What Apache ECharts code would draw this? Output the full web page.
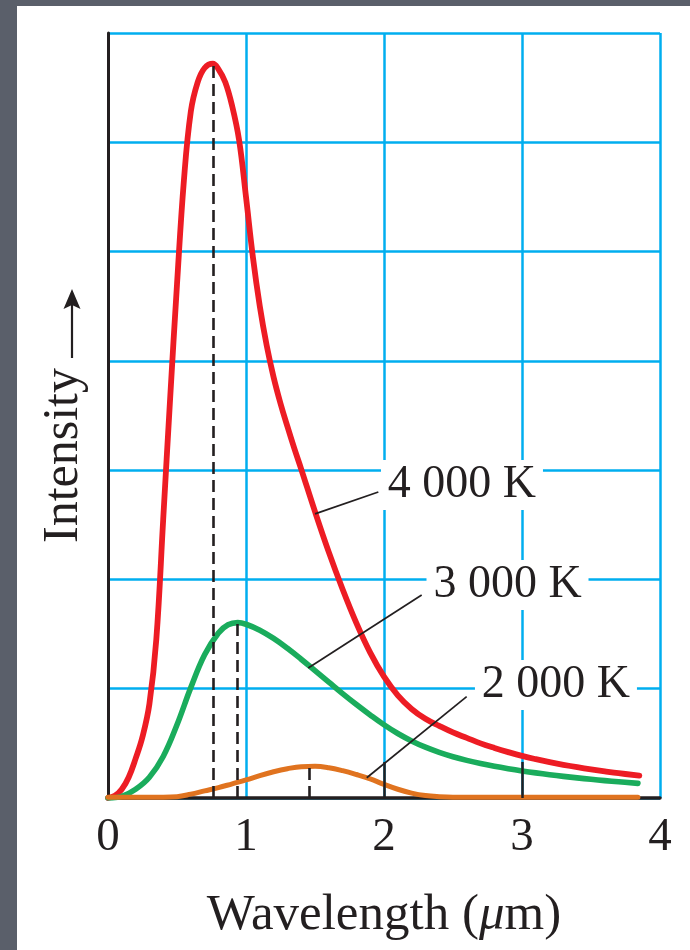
<!DOCTYPE html>
<html>
<head>
<meta charset="utf-8">
<script src="https://cdn.jsdelivr.net/npm/echarts@6/dist/echarts.min.js"></script>
<style>
html,body{margin:0;padding:0;background:#5a5f6a;width:690px;height:950px;overflow:hidden}
#paper{position:absolute;left:17px;top:6px;right:0;bottom:0;background:#fff}
#chart{position:absolute;left:0;top:0;width:690px;height:950px}
</style>
</head>
<body>
<div id="paper"></div>
<div id="chart"></div>
<script>
// ---- data ----
const xTicks = [0, 1, 2, 3, 4];
const wl4000  = [0,0.05,0.1,0.15,0.2,0.25,0.3,0.35,0.4,0.45,0.5,0.55,0.6,0.65,0.7,0.76,0.8,0.85,0.9,0.95,1.0,1.05,1.1,1.15,1.2,1.25,1.3,1.35,
                 1.4,1.5,1.6,1.7,1.8,1.9,2.0,2.1,2.2,2.3,2.4,2.5,2.6,2.7,2.8,2.9,3.0,3.1,3.2,3.3,3.4,3.5,3.6,3.7,3.85];
const int4000 = [0,0.02,0.08,0.19,0.36,0.56,0.86,1.45,2.55,3.65,4.7,5.65,6.28,6.55,6.68,6.72,6.67,6.55,6.33,6.02,5.5,4.95,4.5,4.14,3.85,3.61,3.4,3.2,
                 3.01,2.62,2.25,1.91,1.6,1.33,1.11,0.94,0.815,0.725,0.66,0.6,0.55,0.5,0.458,0.42,0.385,0.355,0.328,0.304,0.282,0.262,0.244,0.227,0.205];
const wl3000  = [0,0.1,0.2,0.3,0.4,0.5,0.6,0.7,0.8,0.87,0.94,1.0,
                 1.1,1.2,1.3,1.4,1.5,1.6,1.7,1.8,1.9,2.0,2.1,2.2,2.3,2.4,2.5,2.6,2.7,2.8,2.9,3.0,3.1,3.2,3.3,3.4,3.5,3.6,3.7,3.84];
const int3000 = [0,0.015,0.08,0.19,0.38,0.67,1.01,1.31,1.51,1.585,1.605,1.59,
                 1.535,1.46,1.37,1.27,1.165,1.06,0.955,0.855,0.76,0.67,0.59,0.522,0.465,0.418,0.378,0.344,0.315,0.29,0.268,0.248,0.23,0.213,0.198,0.184,0.171,0.159,0.148,0.134];
const wl2000  = [0,0.1,0.2,0.3,0.4,0.5,0.6,0.7,0.8,0.9,1.0,1.1,1.2,1.3,1.4,1.5,1.6,1.7,1.8,1.9,2.0,2.1,2.2,2.3,2.4,2.5,3.0,3.5,3.84];
const int2000 = [0.008,0.008,0.008,0.008,0.008,0.012,0.035,0.065,0.095,0.13,0.165,0.205,0.24,0.268,0.287,0.29,0.277,0.25,0.215,0.175,0.125,0.08,0.045,0.022,0.012,0.008,0.008,0.008,0.008];
const peakWl  = [0.76, 0.94, 1.46];
const peakInt = [6.72, 1.6, 0.29];
const curveLabels = ['4 000 K', '3 000 K', '2 000 K'];

// ---- annotation placement (data units) ----
const labelAt = [[2.565, 2.864], [2.895, 1.949], [3.246, 1.034]];
const leaderFrom = [[1.5, 2.6], [1.451, 1.19], [1.875, 0.185]];
const leaderTo   = [[1.959, 2.80], [2.273, 1.857], [2.599, 0.927]];
const innerTicks = [2, 3];
const innerTickLen = 0.33;

const FONT = 'Liberation Serif';
const INK = '#231f20';
const GRIDC = '#00aeef';
const colors = ['#ed1c24', '#1aac5c', '#e0731f'];

const zip = (a, b) => a.map((v, i) => [v, b[i]]);
const curves = [zip(wl4000, int4000), zip(wl3000, int3000), zip(wl2000, int2000)];

const chart = echarts.init(document.getElementById('chart'));

const widths = [5.8, 5.6, 5];
const curveSeries = curves.map((d, i) => ({
  type: 'line', data: d, smooth: 0.4, showSymbol: false,
  lineStyle: { color: colors[i], width: widths[i], cap: 'round', join: 'round' }, z: 3, silent: true
}));

const lineData = [];
peakWl.forEach((x, i) => lineData.push([
  { coord: [x, 0], lineStyle: { color: INK, width: 2.6, type: [12, 6] } },
  { coord: [x, peakInt[i]] }
]));
innerTicks.forEach(x => lineData.push([
  { coord: [x, 0], lineStyle: { color: INK, width: 2.5, type: 'solid' } },
  { coord: [x, innerTickLen] }
]));
leaderFrom.forEach((p, i) => lineData.push([
  { coord: p, lineStyle: { color: INK, width: 1.7, type: 'solid' } },
  { coord: leaderTo[i] }
]));

const option = {
  animation: false,
  grid: { left: 108, right: 30, top: 33, bottom: 152 },
  xAxis: {
    type: 'value', min: 0, max: 4, interval: 1,
    axisLine: { show: true, lineStyle: { color: INK, width: 3.5 } },
    axisTick: { show: false },
    axisLabel: { fontFamily: FONT, fontSize: 47, color: INK, margin: 16,
      formatter: v => xTicks.includes(v) ? String(v) : '' },
    splitLine: { show: true, lineStyle: { color: GRIDC, width: 2.5 } },
    name: '{t|Wavelength (}{i|\u03bc}{t|m)}',
    nameLocation: 'middle', nameGap: 92,
    nameTextStyle: { rich: {
      t: { fontFamily: FONT, fontSize: 51, color: INK },
      i: { fontFamily: FONT, fontSize: 51, color: INK, fontStyle: 'italic' }
    } }
  },
  yAxis: {
    type: 'value', min: 0, max: 7, interval: 1,
    axisLine: { show: true, lineStyle: { color: INK, width: 3 } },
    axisTick: { show: false },
    axisLabel: { show: false },
    splitLine: { show: true, lineStyle: { color: GRIDC, width: 2.5 } },
    name: '{t|Intensity}{sp|}',
    nameLocation: 'middle', nameRotate: 90, nameGap: 19,
    nameTextStyle: { rich: {
      t: { fontFamily: FONT, fontSize: 50, color: INK },
      sp: { width: 80, fontSize: 50 }
    } }
  },
  graphic: [
    { type: 'line', silent: true, shape: { x1: 72, y1: 358, x2: 72, y2: 302 },
      style: { stroke: INK, lineWidth: 2.2 } },
    { type: 'polygon', silent: true, shape: { points: [[72, 289], [63.5, 309], [72, 305], [80.5, 309]] },
      style: { fill: INK } }
  ],
  series: [
    { type: 'line', data: [], z: 1, silent: true,
      markLine: { silent: true, symbol: 'none', label: { show: false }, animation: false, data: lineData } },
    ...curveSeries,
    { type: 'line', data: [], z: 4, silent: true,
      markPoint: { silent: true, animation: false,
        data: labelAt.map((c, i) => ({
          coord: c, symbol: 'rect', symbolSize: [162, 50],
          itemStyle: { color: '#fff' },
          label: { show: true, position: 'inside', formatter: curveLabels[i],
            fontFamily: FONT, fontSize: 46, color: INK }
        })) } }
  ]
};
chart.setOption(option);
</script>
</body>
</html>
